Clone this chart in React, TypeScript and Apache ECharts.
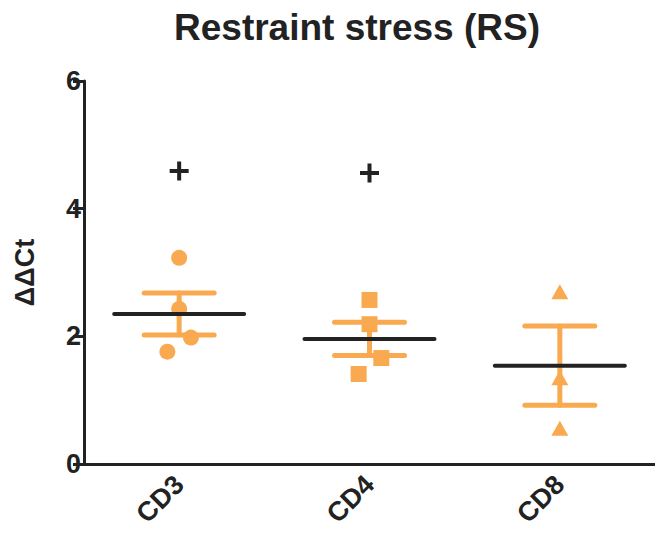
import React, { useEffect, useRef } from "react";
import * as echarts from "echarts";

const categories = ["CD3", "CD4", "CD8"];
const groupX = [0.5, 1.5, 2.5];
const means = [2.35, 1.96, 1.54];
const sems = [0.33, 0.26, 0.62];
const cd3Points: [number, number][] = [[0.5, 3.23], [0.5, 2.43], [0.562, 1.98], [0.438, 1.76]];
const cd4Points: [number, number][] = [[1.5, 2.57], [1.5, 2.19], [1.562, 1.66], [1.443, 1.41]];
const cd8Points: [number, number][] = [[2.5, 2.7], [2.5, 1.35], [2.5, 0.56]];
const outliers: [number, number][] = [[0.5, 4.59], [1.5, 4.56]];
const yTicks = [0, 2, 4, 6];

const ORANGE = "#F9AA51";
const DARK = "#222222";
const FONT = "'Liberation Sans', Arial, sans-serif";
const PLUS = "path://M7.5,0H11.5V7.5H19V11.5H11.5V19H7.5V11.5H0V7.5H7.5Z";

export default function App() {
  const ref = useRef<HTMLDivElement>(null);
  useEffect(() => {
    if (!ref.current) return;
    const chart = echarts.init(ref.current, undefined, { renderer: "svg" });
    const statData = groupX.map((x, i) => [x, means[i], sems[i]]);
    chart.setOption({
      animation: false,
      title: {
        text: "Restraint stress (RS)",
        left: 352,
        textAlign: "center",
        top: 4,
        textStyle: { fontFamily: FONT, fontWeight: "bold", fontSize: 37, color: DARK },
      },
      grid: { left: 84, top: 81, width: 579, height: 383, containLabel: false },
      xAxis: [
        {
          type: "category",
          data: categories,
          boundaryGap: true,
          axisLine: { lineStyle: { color: DARK, width: 3 } },
          axisTick: { alignWithLabel: true, length: 10, lineStyle: { color: DARK, width: 3 } },
          axisLabel: {
            rotate: 45,
            margin: 16,
            fontFamily: FONT,
            fontWeight: "bold",
            fontSize: 27,
            color: DARK,
          },
          splitLine: { show: false },
        },
        { type: "value", min: 0, max: 3, show: false },
      ],
      yAxis: {
        type: "value",
        min: yTicks[0],
        max: yTicks[yTicks.length - 1],
        interval: 2,
        name: "ΔΔCt",
        nameLocation: "middle",
        nameGap: 46,
        nameTextStyle: { fontFamily: FONT, fontWeight: "bold", fontSize: 27, color: DARK },
        axisLine: { show: true, lineStyle: { color: DARK, width: 3 } },
        axisTick: { show: true, length: 11, lineStyle: { color: DARK, width: 3 } },
        axisLabel: { margin: 3, fontFamily: FONT, fontWeight: "bold", fontSize: 27, color: DARK },
        splitLine: { show: false },
      },
      series: [
        {
          type: "custom",
          xAxisIndex: 1,
          z: 1,
          data: statData,
          renderItem: (params: any, api: any) => {
            const x = api.value(0), m = api.value(1), s = api.value(2);
            const top = api.coord([x, m + s]);
            const bot = api.coord([x, m - s]);
            const st = { stroke: ORANGE, lineWidth: 5, lineCap: "round" };
            return {
              type: "group",
              children: [
                { type: "line", shape: { x1: top[0], y1: top[1], x2: bot[0], y2: bot[1] }, style: st },
                { type: "line", shape: { x1: top[0] - 35, y1: top[1], x2: top[0] + 35, y2: top[1] }, style: st },
                { type: "line", shape: { x1: bot[0] - 35, y1: bot[1], x2: bot[0] + 35, y2: bot[1] }, style: st },
              ],
            };
          },
        },
        {
          type: "scatter",
          xAxisIndex: 1,
          z: 2,
          symbol: "circle",
          symbolSize: 16,
          itemStyle: { color: ORANGE, opacity: 1 },
          data: cd3Points,
        },
        {
          type: "scatter",
          xAxisIndex: 1,
          z: 2,
          symbol: "rect",
          symbolSize: 16,
          itemStyle: { color: ORANGE, opacity: 1 },
          data: cd4Points,
        },
        {
          type: "scatter",
          xAxisIndex: 1,
          z: 2,
          symbol: "triangle",
          symbolSize: [17, 15],
          itemStyle: { color: ORANGE, opacity: 1 },
          data: cd8Points,
        },
        {
          type: "scatter",
          xAxisIndex: 1,
          z: 2,
          symbol: PLUS,
          symbolSize: 19,
          itemStyle: { color: DARK, opacity: 1 },
          data: outliers,
        },
        {
          type: "custom",
          xAxisIndex: 1,
          z: 3,
          data: statData,
          renderItem: (params: any, api: any) => {
            const x = api.value(0), m = api.value(1);
            const c = api.coord([x, m]);
            return {
              type: "line",
              shape: { x1: c[0] - 65, y1: c[1], x2: c[0] + 65, y2: c[1] },
              style: { stroke: DARK, lineWidth: 4, lineCap: "round" },
            };
          },
        },
      ],
    });
    return () => chart.dispose();
  }, []);
  return <div ref={ref} style={{ width: 655, height: 547, position: "absolute", left: 0, top: 0 }} />;
}
